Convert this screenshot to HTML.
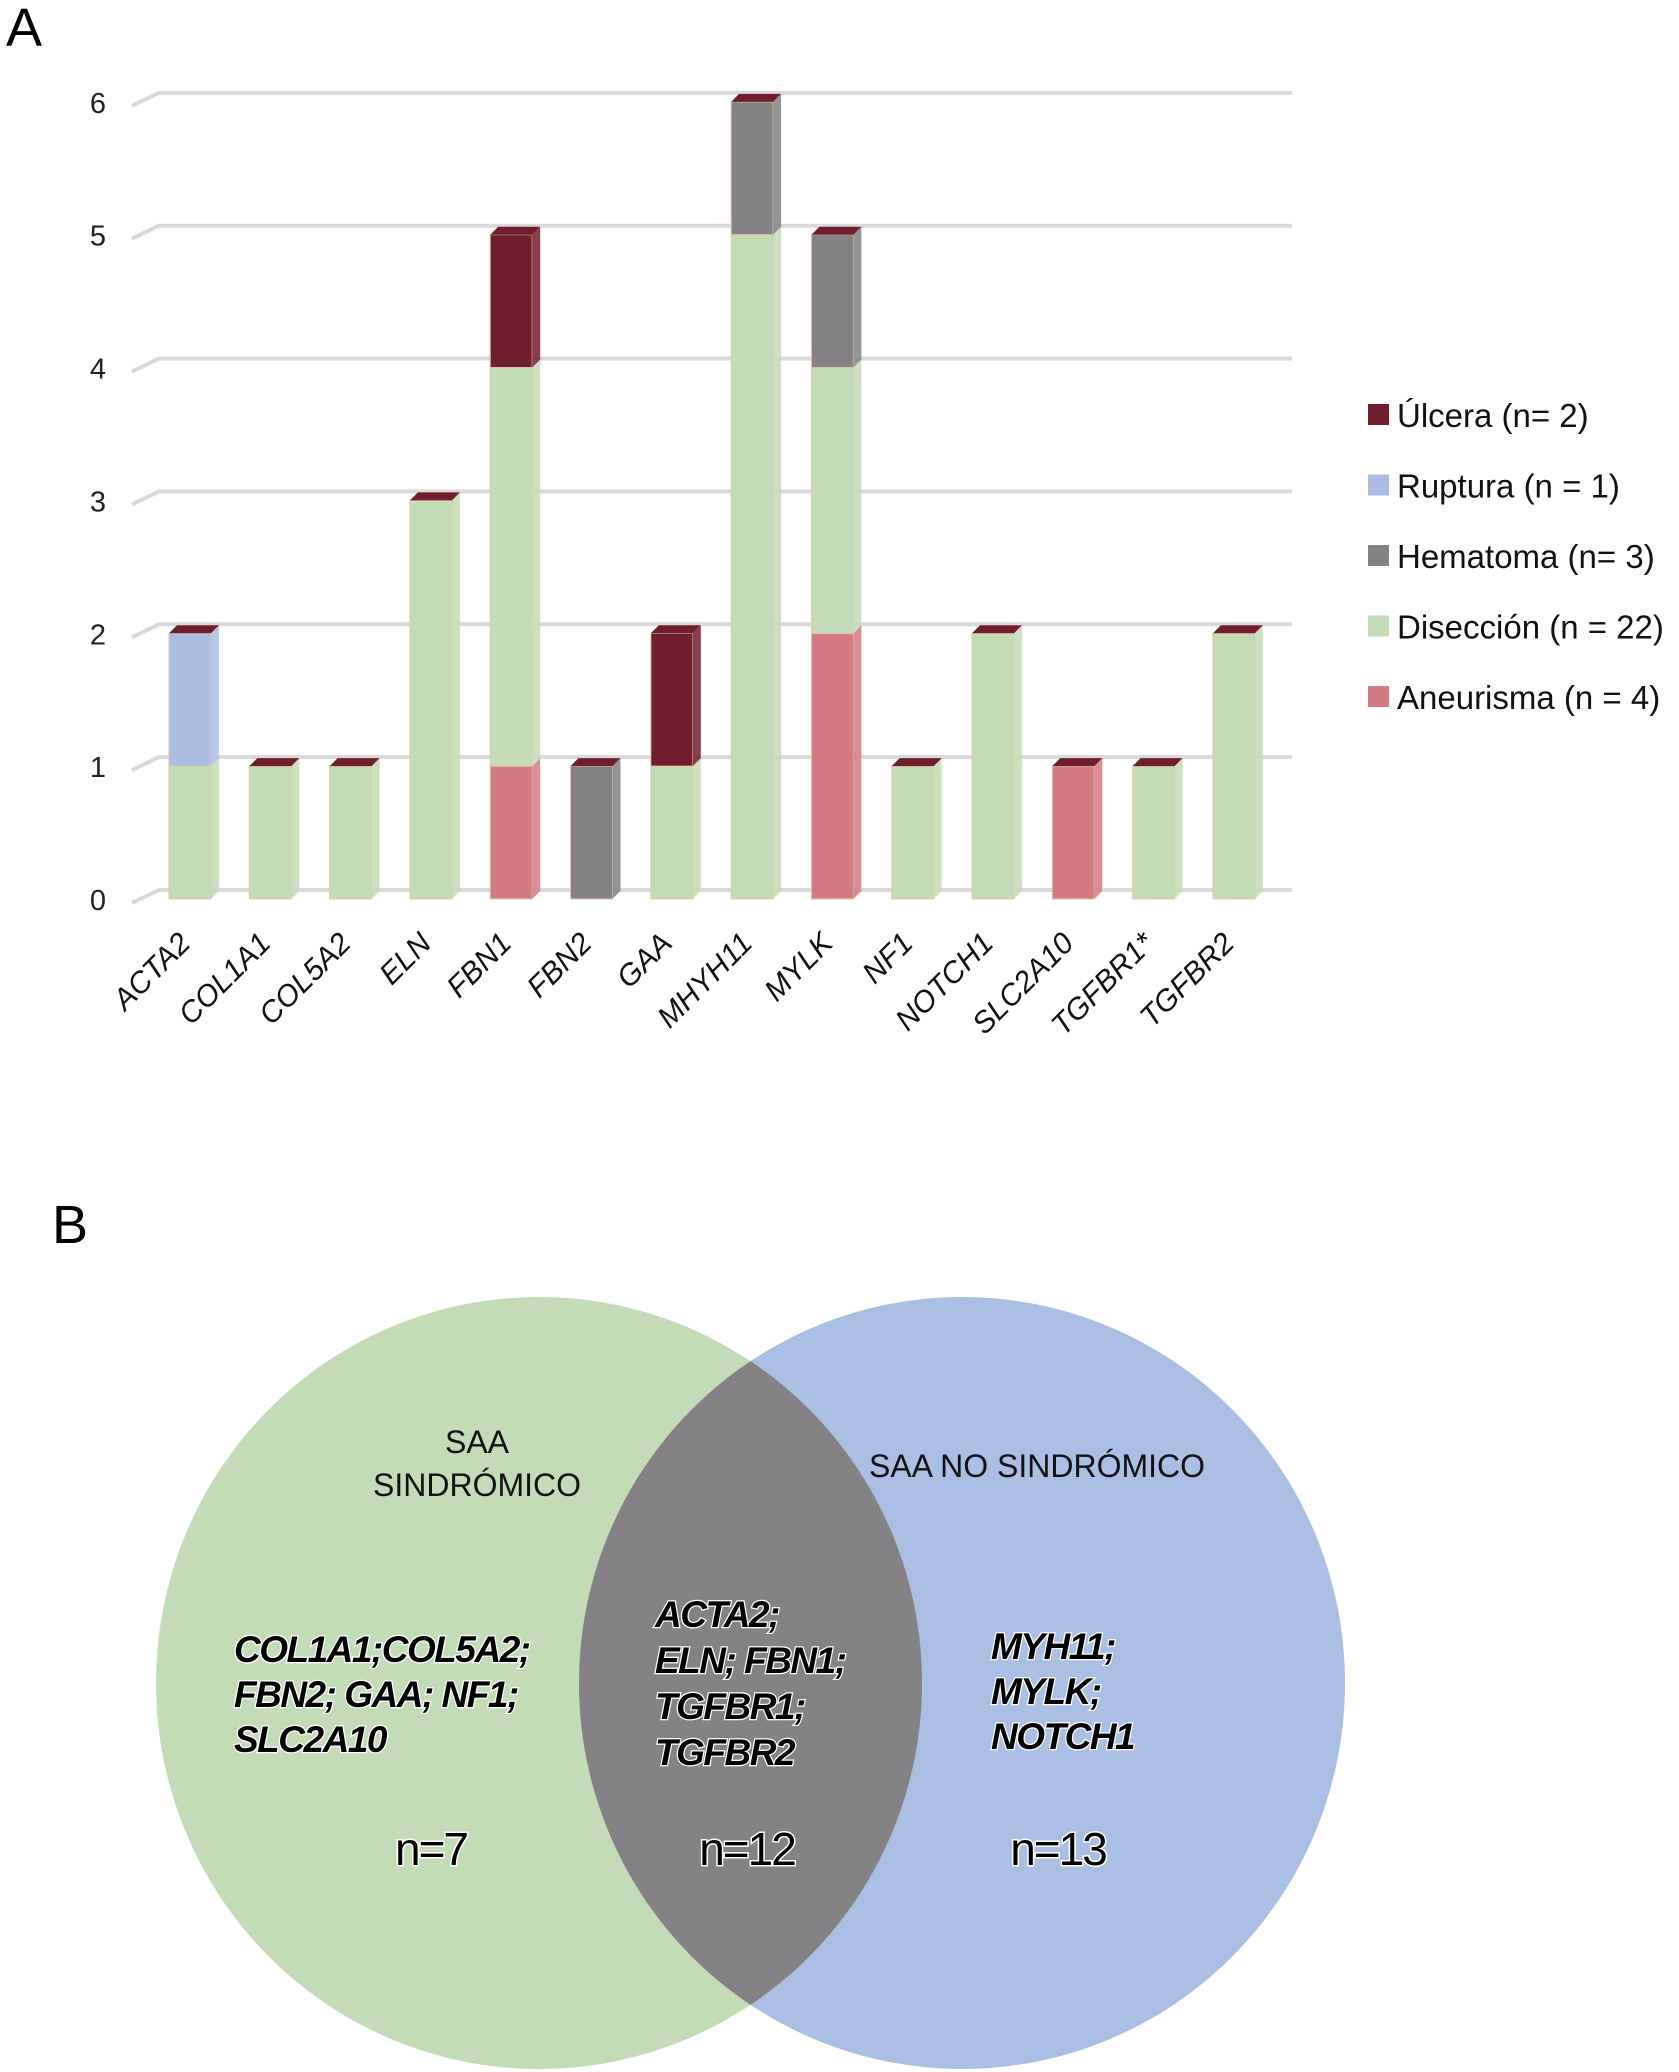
<!DOCTYPE html>
<html><head><meta charset="utf-8">
<style>
html,body{margin:0;padding:0;background:#fff;}
svg{display:block;}
text{font-family:"Liberation Sans",sans-serif;}
</style></head>
<body>
<svg id="fig" width="1679" height="2072" viewBox="0 0 1679 2072">
  <text x="6" y="46" font-size="54">A</text>
  <g id="chart"></g>
  <g id="legend"></g>
  <text x="52" y="1243" font-size="54">B</text>
  <g>
    <defs>
      <clipPath id="clipL"><ellipse cx="539" cy="1683" rx="383" ry="386"/></clipPath>
    </defs>
    <ellipse cx="539" cy="1683" rx="383" ry="386" fill="#c3dcb7"/>
    <ellipse cx="962" cy="1683" rx="383" ry="386" fill="#abbfe4"/>
    <ellipse cx="962" cy="1683" rx="383" ry="386" fill="#848284" clip-path="url(#clipL)"/>
    <g font-size="32" fill="#111" text-anchor="middle">
      <text x="477" y="1453">SAA</text>
      <text x="477" y="1496">SINDRÓMICO</text>
      <text x="1037" y="1477">SAA NO SINDRÓMICO</text>
    </g>
    <g font-size="37" font-style="italic" font-weight="bold" fill="#000" stroke="#fff" stroke-width="2.5" paint-order="stroke" style="letter-spacing:-1.5px">
      <text x="234" y="1662">COL1A1;COL5A2;</text>
      <text x="234" y="1707">FBN2; GAA; NF1;</text>
      <text x="234" y="1752">SLC2A10</text>
      <text x="655" y="1627">ACTA2;</text>
      <text x="655" y="1673">ELN; FBN1;</text>
      <text x="655" y="1719">TGFBR1;</text>
      <text x="655" y="1765">TGFBR2</text>
      <text x="991" y="1659">MYH11;</text>
      <text x="991" y="1704">MYLK;</text>
      <text x="991" y="1749">NOTCH1</text>
    </g>
    <g font-size="46" fill="#000" stroke="#fff" stroke-width="3" paint-order="stroke" text-anchor="middle" style="letter-spacing:-2px">
      <text x="431" y="1865">n=7</text>
      <text x="747" y="1865">n=12</text>
      <text x="1058" y="1865">n=13</text>
    </g>
  </g>
</svg>
<script>
const categories = ["ACTA2","COL1A1","COL5A2","ELN","FBN1","FBN2","GAA","MHYH11","MYLK","NF1","NOTCH1","SLC2A10","TGFBR1*","TGFBR2"];
const seriesNames = ["Aneurisma","Disección","Hematoma","Ruptura","Úlcera"];
const aneurisma = [0,0,0,0,1,0,0,0,2,0,0,1,0,0];
const diseccion = [1,1,1,3,3,0,1,5,2,1,2,0,1,2];
const hematoma  = [0,0,0,0,0,1,0,1,1,0,0,0,0,0];
const ruptura   = [1,0,0,0,0,0,0,0,0,0,0,0,0,0];
const ulcera    = [0,0,0,0,1,0,1,0,0,0,0,0,0,0];
const yTicks = [0,1,2,3,4,5,6];
const legendLabels = ["Úlcera (n= 2)","Ruptura (n = 1)","Hematoma (n= 3)","Disección (n = 22)","Aneurisma (n = 4)"];

const NS = "http://www.w3.org/2000/svg";
const colors = {"Aneurisma":"#d27b83","Disección":"#c3dcb7","Hematoma":"#848284","Ruptura":"#abbee2","Úlcera":"#701e2d"};
const series = [aneurisma, diseccion, hematoma, ruptura, ulcera];
const chart = document.getElementById("chart");
const y0 = 899, unit = 100.5*1.322;
function yScale(v){ return y0 - v*unit; }
function xScale(i){ return 190 + i*80.3; }
const BW = 42, CAP = 8;
function mk(tag, attrs, parent){ const e=document.createElementNS(NS,tag); for(const k in attrs) e.setAttribute(k,attrs[k]); (parent||chart).appendChild(e); return e; }

yTicks.forEach(t=>{
  const y = yScale(t);
  const g = mk("polyline",{points:`${132},${y+4} ${159},${y-9} ${1292},${y-9}`,fill:"none",stroke:"#d9d9d9","stroke-width":4});
  
  
  const tx = mk("text",{x:98,y:y+11,"font-size":29,"text-anchor":"middle",fill:"#222"});
  tx.textContent = t;
  
  
});

categories.forEach((c,i)=>{
  const cx = xScale(i), x = cx - BW/2;
  let acc = 0, top = 0;
  series.forEach((s,si)=>{
    const v = s[i]; if(!v) return;
    const r = mk("rect",{x:x,y:yScale(acc+v),width:BW,height:v*unit,fill:colors[seriesNames[si]],stroke:"#e6c8a8","stroke-width":1});
    
    
    const side = mk("polygon",{points:`${x+BW},${yScale(acc+v)} ${x+BW+CAP},${yScale(acc+v)-CAP} ${x+BW+CAP},${yScale(acc)-CAP} ${x+BW},${yScale(acc)}`,fill:colors[seriesNames[si]],opacity:0.85});
    
    
    acc += v; top = acc;
  });
  const yt = yScale(top);
  const cap = mk("polygon",{points:`${x},${yt} ${x+CAP},${yt-CAP} ${x+BW+CAP},${yt-CAP} ${x+BW},${yt}`,fill:"#701e2d"});
  
  
  const lx = cx+2, ly = 945;
  const lb = mk("text",{x:lx,y:ly,"font-size":30,"font-style":"italic","text-anchor":"end",transform:`rotate(-45 ${lx} ${ly})`,fill:"#111"});
  lb.textContent = c;
  
  
});

const legend = document.getElementById("legend");
const legColors = ["#701e2d","#abbee2","#848284","#c3dcb7","#d27b83"];
legendLabels.forEach((l,i)=>{
  const y = 416 + i*70.5;
  const sq = mk("rect",{x:1368,y:y-12,width:21,height:21,fill:legColors[i]},legend);
  
  
  const t = mk("text",{x:1397,y:y+11,"font-size":33,fill:"#111"},legend);
  t.textContent = l;
  
  
});
</script>
</body></html>
